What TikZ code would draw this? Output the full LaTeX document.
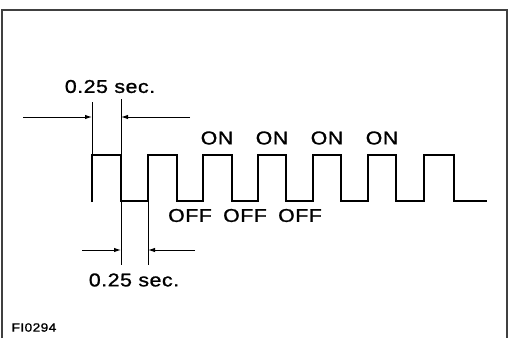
\documentclass[tikz,border=0pt]{standalone}
\usepackage{fontspec}
\setmainfont{Liberation Sans}[FakeStretch=1.15,LetterSpace=3,FakeBold=1.2]
\usetikzlibrary{arrows.meta}
\begin{document}
\begin{tikzpicture}[x=1pt,y=-1pt,
  wave/.style={line width=2pt,line join=miter},
  ext/.style={line width=1pt},
  dimarrow/.style={line width=1pt,-{Latex[length=7pt,width=4.5pt]}},
  lbl/.style={font=\fontsize{18.5}{18.5}\selectfont,inner sep=0pt},
  tag/.style={font=\fontsize{12}{12}\selectfont,inner sep=0pt}]
\useasboundingbox (0,0) rectangle (510,338);
% frame
\draw[line width=1.2pt,black!75] (2,338) coordinate (f1) -- (2,10) coordinate (f2) -- (507,10) coordinate (f3) -- (507,338) coordinate (f4);
% waveform
\draw[wave] (92,202) coordinate (w0) -- (92,155) coordinate (w1) -- (121,155) coordinate (w2) -- (121,201) coordinate (w3)
  -- (148,201) coordinate (w4) -- (148,155) -- (177,155) -- (177,201)
  -- (203,201) -- (203,155) -- (232,155) -- (232,201)
  -- (258,201) -- (258,155) -- (286,155) -- (286,201)
  -- (313,201) -- (313,155) -- (341,155) -- (341,201)
  -- (368,201) -- (368,155) -- (396,155) -- (396,201)
  -- (424,201) -- (424,155) -- (454,155) -- (454,201)
  -- (487,201) coordinate (wend);
% extension lines
\coordinate (e1t) at (92,102);
\coordinate (e2t) at (121,99);
\coordinate (e2b) at (121,265);
\coordinate (e3b) at (148,265);
\draw[ext] (e1t) -- (w1);
\draw[ext] (e2t) -- (e2b);
\draw[ext] (w4) -- (e3b);
% dimension arrows
\coordinate (a1s) at (23,117);  \coordinate (a1e) at (92,117);
\coordinate (a2s) at (190,117); \coordinate (a2e) at (121,117);
\coordinate (a3s) at (82,250);  \coordinate (a3e) at (121,250);
\coordinate (a4s) at (195,250); \coordinate (a4e) at (148,250);
\draw[dimarrow] (a1s) -- (a1e);
\draw[dimarrow] (a2s) -- (a2e);
\draw[dimarrow] (a3s) -- (a3e);
\draw[dimarrow] (a4s) -- (a4e);
% labels
\node[lbl] (t1) at (110,86.5) {0.25 sec.};
\node[lbl] (t2) at (134,280) {0.25 sec.};
\node[lbl] (on1) at (217,138) {ON};
\node[lbl] (on2) at (272,138) {ON};
\node[lbl] (on3) at (327,138) {ON};
\node[lbl] (on4) at (382,138) {ON};
\node[lbl] (off1) at (190,215.5) {OFF};
\node[lbl] (off2) at (245,215.5) {OFF};
\node[lbl] (off3) at (300,215.5) {OFF};
\node[tag] (fig) at (34,327.5) {FI0294};
\end{tikzpicture}
\end{document}
